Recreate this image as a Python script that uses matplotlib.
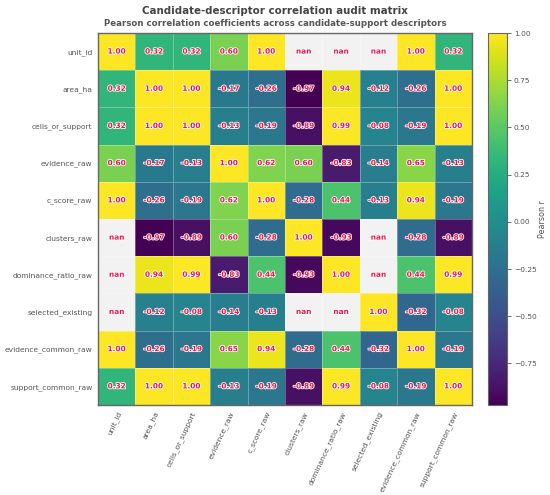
import numpy as np
import matplotlib
matplotlib.use("Agg")
import matplotlib.pyplot as plt
import matplotlib.patheffects as pe

labels = ["unit_id", "area_ha", "cells_or_support", "evidence_raw", "c_score_raw",
          "clusters_raw", "dominance_ratio_raw", "selected_existing",
          "evidence_common_raw", "support_common_raw"]

nan = np.nan
row_unit_id = [1.00, 0.32, 0.32, 0.60, 1.00, nan, nan, nan, 1.00, 0.32]
row_area_ha = [0.32, 1.00, 1.00, -0.17, -0.26, -0.97, 0.94, -0.12, -0.26, 1.00]
row_cells = [0.32, 1.00, 1.00, -0.13, -0.19, -0.89, 0.99, -0.08, -0.19, 1.00]
row_evidence = [0.60, -0.17, -0.13, 1.00, 0.62, 0.60, -0.83, -0.14, 0.65, -0.13]
row_cscore = [1.00, -0.26, -0.19, 0.62, 1.00, -0.28, 0.44, -0.13, 0.94, -0.19]
row_clusters = [nan, -0.97, -0.89, 0.60, -0.28, 1.00, -0.93, nan, -0.28, -0.89]
row_dominance = [nan, 0.94, 0.99, -0.83, 0.44, -0.93, 1.00, nan, 0.44, 0.99]
row_selected = [nan, -0.12, -0.08, -0.14, -0.13, nan, nan, 1.00, -0.32, -0.08]
row_ev_common = [1.00, -0.26, -0.19, 0.65, 0.94, -0.28, 0.44, -0.32, 1.00, -0.19]
row_sup_common = [0.32, 1.00, 1.00, -0.13, -0.19, -0.89, 0.99, -0.08, -0.19, 1.00]

M = np.array([row_unit_id, row_area_ha, row_cells, row_evidence, row_cscore,
              row_clusters, row_dominance, row_selected, row_ev_common, row_sup_common])

fig = plt.figure(figsize=(5.5, 4.95), dpi=100)
ax = fig.add_axes([98/550, 1-405/495, 374/550, 372/495])
cax = fig.add_axes([488/550, 1-405/495, 19/550, 372/495])

cmap = plt.get_cmap("viridis").copy()
cmap.set_bad("#f2f2f2")
masked = np.ma.masked_invalid(M)
n = len(labels)
mesh = ax.pcolormesh(np.arange(n+1), np.arange(n+1), masked, cmap=cmap,
                     vmin=np.nanmin(M), vmax=1.0,
                     edgecolors=(1, 1, 1, 0.3), linewidth=0.5)
ax.set_facecolor("#f2f2f2")
ax.set_xlim(0, n)
ax.set_ylim(n, 0)
ax.set_aspect("auto")

for i in range(n):
    for j in range(n):
        v = M[i, j]
        s = "nan" if np.isnan(v) else f"{v:.2f}"
        ax.text(j+0.5, i+0.5, s, ha="center", va="center", fontsize=5.3,
                fontweight="bold", color="#e8174a",
                path_effects=[pe.withStroke(linewidth=1.2, foreground="white")])

ax.set_xticks(np.arange(n)+0.5)
ax.set_yticks(np.arange(n)+0.5)
ax.set_xticklabels(labels, rotation=65, ha="right", rotation_mode="anchor",
                   fontsize=5.4, color="#555555")
ax.set_yticklabels(labels, fontsize=5.4, color="#555555")
ax.tick_params(length=0, pad=4)
for sp in ax.spines.values():
    sp.set_color("#666666")
    sp.set_linewidth(1.0)

cb = fig.colorbar(mesh, cax=cax)
cb.set_ticks([-0.75, -0.5, -0.25, 0.0, 0.25, 0.5, 0.75, 1.0])
cb.ax.tick_params(labelsize=5.4, colors="#555555", length=3, width=0.6, pad=2)
cb.outline.set_edgecolor("#666666")
cb.set_label("Pearson r", fontsize=5.8, color="#555555", labelpad=1)

fig.text(0.5, 1-11/495, "Candidate-descriptor correlation audit matrix",
         ha="center", va="center", fontsize=7.4, fontweight="bold", color="#444444")
fig.text(0.5, 1-23/495, "Pearson correlation coefficients across candidate-support descriptors",
         ha="center", va="center", fontsize=6.2, fontweight="bold", color="#555555")

fig.savefig("out.png", dpi=100)
